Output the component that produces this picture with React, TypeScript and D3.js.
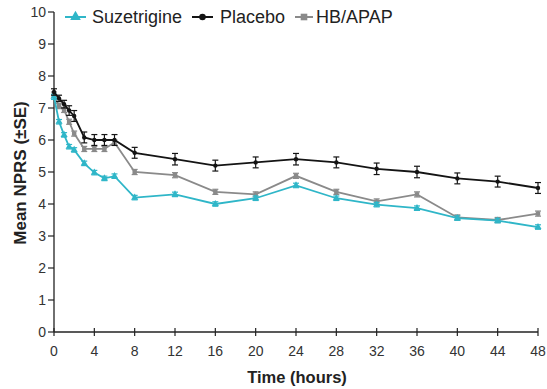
import React from "react";
import * as d3 from "d3";

const times = [0, 0.5, 1, 1.5, 2, 3, 4, 5, 6, 8, 12, 16, 20, 24, 28, 32, 36, 40, 44, 48];
const suzetrigine = [7.35, 6.57, 6.16, 5.79, 5.69, 5.27, 4.98, 4.8, 4.87, 4.2, 4.3, 4.0, 4.18, 4.58, 4.18, 3.98, 3.87, 3.56, 3.48, 3.28];
const suzSE = [0.08, 0.07, 0.07, 0.07, 0.07, 0.07, 0.07, 0.07, 0.07, 0.07, 0.07, 0.07, 0.07, 0.07, 0.07, 0.07, 0.07, 0.07, 0.07, 0.07];
const placebo = [7.5, 7.3, 7.12, 6.92, 6.75, 6.08, 6.0, 6.0, 6.0, 5.6, 5.4, 5.2, 5.3, 5.4, 5.3, 5.1, 5.0, 4.8, 4.7, 4.5];
const placeboSE = [0.1, 0.1, 0.12, 0.15, 0.17, 0.17, 0.17, 0.17, 0.17, 0.17, 0.18, 0.17, 0.17, 0.18, 0.17, 0.18, 0.18, 0.17, 0.17, 0.17];
const hbapap = [7.42, 7.06, 6.94, 6.57, 6.2, 5.72, 5.72, 5.72, 5.92, 5.0, 4.9, 4.38, 4.3, 4.88, 4.38, 4.08, 4.3, 3.58, 3.5, 3.7];
const hbapapSE = [0.08, 0.08, 0.08, 0.08, 0.08, 0.08, 0.08, 0.08, 0.08, 0.08, 0.08, 0.08, 0.08, 0.08, 0.08, 0.08, 0.08, 0.08, 0.08, 0.08];
const xTicks = [0, 4, 8, 12, 16, 20, 24, 28, 32, 36, 40, 44, 48];
const yTicks = [0, 1, 2, 3, 4, 5, 6, 7, 8, 9, 10];
const seriesNames = ["Suzetrigine", "Placebo", "HB/APAP"];

const COLORS = ["#2fb6c8", "#141414", "#8a8a8a"];
const FONT = "Helvetica, 'Liberation Sans', Arial, sans-serif";

export default function App() {
  const W = 547, H = 389;
  const x = d3.scaleLinear().domain([0, 48]).range([54, 538]);
  const y = d3.scaleLinear().domain([0, 10]).range([332, 12]);
  const series = [
    { name: seriesNames[0], vals: suzetrigine, se: suzSE, color: COLORS[0], marker: "tri" },
    { name: seriesNames[1], vals: placebo, se: placeboSE, color: COLORS[1], marker: "circle" },
    { name: seriesNames[2], vals: hbapap, se: hbapapSE, color: COLORS[2], marker: "square" },
  ];
  const drawOrder = [2, 0, 1];
  const line = (vals: number[]) =>
    d3.line<number>().x((_, i) => x(times[i])).y((v) => y(v))(vals) || "";

  const marker = (kind: string, cx: number, cy: number, color: string, s: number) => {
    if (kind === "circle") return <circle cx={cx} cy={cy} r={s} fill={color} />;
    if (kind === "square") return <rect x={cx - s} y={cy - s} width={2 * s} height={2 * s} fill={color} />;
    const p = d3.symbol().type(d3.symbolTriangle).size(s * s * 4.5)();
    return <path d={p || ""} transform={`translate(${cx},${cy})`} fill={color} />;
  };

  const legendItems = [
    { lx1: 65, lx2: 86, tx: 92, s: 0 },
    { lx1: 192, lx2: 213, tx: 220, s: 1 },
    { lx1: 295, lx2: 313, tx: 316, s: 2 },
  ];

  return (
    <svg width={W} height={H} style={{ position: "absolute", left: 0, top: 0, background: "#fff" }} fontFamily={FONT}>
      <rect width={W} height={H} fill="#fff" />
      {/* axes */}
      <line x1={54} x2={54} y1={y(10)} y2={y(0)} stroke="#222" strokeWidth={1.3} />
      <line x1={54} x2={538} y1={y(0)} y2={y(0)} stroke="#222" strokeWidth={1.3} />
      {yTicks.map((t) => (
        <g key={"y" + t}>
          <line x1={48} x2={54} y1={y(t)} y2={y(t)} stroke="#222" strokeWidth={1.2} />
          <text x={46} y={y(t)} dy="0.35em" textAnchor="end" fontSize={14} fill="#333">{t}</text>
        </g>
      ))}
      {xTicks.map((t) => (
        <g key={"x" + t}>
          <line x1={x(t)} x2={x(t)} y1={y(0) - 4} y2={y(0) + 4} stroke="#222" strokeWidth={1.2} />
          <text x={x(t)} y={351} dy="0.35em" textAnchor="middle" fontSize={14} fill="#333">{t}</text>
        </g>
      ))}
      <text x={297} y={377} dy="0.35em" textAnchor="middle" fontSize={16.5} fontWeight="bold" fill="#222">Time (hours)</text>
      <text transform={`translate(20,173) rotate(-90)`} dy="0.35em" textAnchor="middle" fontSize={17} fontWeight="bold" fill="#222">Mean NPRS (±SE)</text>

      {/* series */}
      {drawOrder.map((si) => {
        const s = series[si];
        return (
          <g key={s.name}>
            <path d={line(s.vals)} fill="none" stroke={s.color} strokeWidth={1.8} />
            {s.vals.map((v, i) => {
              const cx = x(times[i]);
              const y1 = y(v + s.se[i]);
              const y2 = y(v - s.se[i]);
              return (
                <g key={i}>
                  <line x1={cx} x2={cx} y1={y1} y2={y2} stroke={s.color} strokeWidth={1.2} />
                  <line x1={cx - 3} x2={cx + 3} y1={y1} y2={y1} stroke={s.color} strokeWidth={1.2} />
                  <line x1={cx - 3} x2={cx + 3} y1={y2} y2={y2} stroke={s.color} strokeWidth={1.2} />
                  {marker(s.marker, cx, y(v), s.color, 2.2)}
                </g>
              );
            })}
          </g>
        );
      })}

      {/* legend */}
      {legendItems.map((it) => {
        const s = series[it.s];
        const cy = 17;
        return (
          <g key={"lg" + it.s}>
            <line x1={it.lx1} x2={it.lx2} y1={cy} y2={cy} stroke={s.color} strokeWidth={2} />
            {marker(s.marker, (it.lx1 + it.lx2) / 2, cy, s.color, 3.3)}
            <text x={it.tx} y={cy} dy="0.35em" fontSize={18} fill="#222">{s.name}</text>
          </g>
        );
      })}
    </svg>
  );
}
